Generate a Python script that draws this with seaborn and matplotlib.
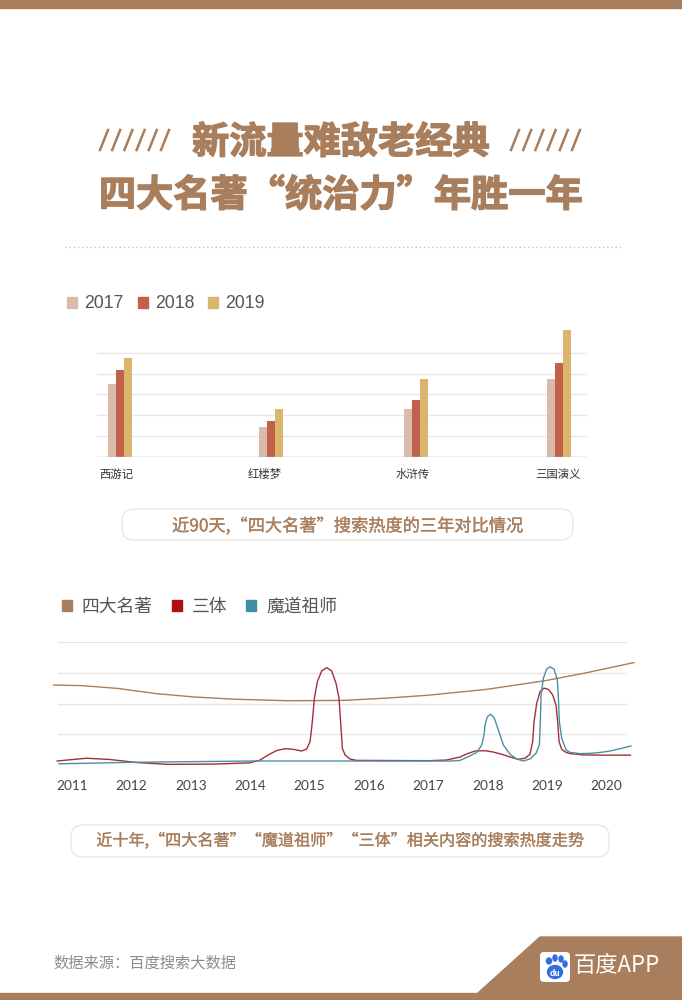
import pandas as pd
import matplotlib.pyplot as plt
import seaborn as sns
from matplotlib.patches import Patch, Polygon, Rectangle, FancyBboxPatch, Ellipse
from matplotlib.patheffects import withStroke

plt.rcParams["font.family"] = ["Noto Sans CJK SC", "DejaVu Sans"]

brown = "#A97E5C"

bars = {
    "名著": ["西游记", "红楼梦", "水浒传", "三国演义"],
    "位置": [120, 271, 416, 559],
    "2017": [3.5, 1.43, 2.3, 3.75],
    "2018": [4.18, 1.72, 2.73, 4.52],
    "2019": [4.76, 2.3, 3.75, 6.1],
}
df_bars = pd.DataFrame(bars).melt(id_vars=["名著", "位置"], var_name="年份", value_name="热度")

brown_line = [(2010.69, 2.60), (2011.18, 2.58), (2011.77, 2.49), (2012.42, 2.32), (2013.07, 2.21),
              (2013.73, 2.14), (2014.64, 2.09), (2015.56, 2.10), (2016.34, 2.18), (2017.0, 2.27),
              (2017.98, 2.46), (2018.96, 2.74), (2019.61, 2.98), (2020.46, 3.33)]
red_line = [(2010.75, .13), (2011.24, .22), (2011.63, .18), (2012.09, .08), (2012.62, .02), (2013.40, .03),
            (2013.99, .07), (2014.165, .16), (2014.305, .33), (2014.445, .47), (2014.586, .53), (2014.726, .51),
            (2014.866, .455), (2014.95, .52), (2015.007, .76), (2015.046, 1.41), (2015.08, 2.17), (2015.13, 2.71),
            (2015.203, 3.06), (2015.287, 3.165), (2015.371, 3.06), (2015.444, 2.66), (2015.495, 2.17),
            (2015.529, 1.19), (2015.551, .54), (2015.596, .33), (2015.68, .195), (2015.79, .15), (2017.0, .14),
            (2017.3, .16), (2017.532, .26), (2017.644, .36), (2017.785, .455), (2017.953, .465), (2018.093, .42),
            (2018.233, .35), (2018.374, .26), (2018.514, .185), (2018.626, .22), (2018.71, .35), (2018.755, .76),
            (2018.778, 1.41), (2018.823, 2.005), (2018.879, 2.385), (2018.946, 2.50), (2019.019, 2.46),
            (2019.092, 2.28), (2019.148, 1.95), (2019.176, 1.41), (2019.199, .76), (2019.244, .51), (2019.317, .41),
            (2019.384, .37), (2019.6, .33), (2019.94, .32), (2020.40, .32)]
teal_line = [(2010.78, .04), (2012.09, .09), (2014.05, .13), (2015.69, .13), (2017.2, .13), (2017.39, .13),
             (2017.532, .15), (2017.672, .27), (2017.813, .41), (2017.897, .65), (2017.936, .975), (2017.953, 1.30),
             (2017.992, 1.57), (2018.048, 1.65), (2018.11, 1.52), (2018.177, 1.14), (2018.262, .65), (2018.374, .35),
             (2018.486, .195), (2018.598, .13), (2018.71, .195), (2018.811, .38), (2018.868, .65), (2018.884, 1.41),
             (2018.896, 2.28), (2018.935, 2.82), (2018.991, 3.12), (2019.047, 3.19), (2019.115, 3.12), (2019.171, 2.76),
             (2019.188, 2.17), (2019.204, 1.41), (2019.244, .87), (2019.317, .49), (2019.384, .41), (2019.55, .37),
             (2019.74, .38), (2019.9, .41), (2020.07, .46), (2020.25, .54), (2020.41, .62)]

rows = []
for name, points in [("四大名著", brown_line), ("三体", red_line), ("魔道祖师", teal_line)]:
    for year, value in points:
        rows.append({"词": name, "年": year, "热度": value})
df_lines = pd.DataFrame(rows)

plt.figure(figsize=(6.82, 10))

# page decoration, in pixels of the picture
page = plt.axes([0, 0, 1, 1])
plt.xlim(0, 682)
plt.ylim(1000, 0)
plt.axis("off")
page.add_patch(Rectangle((0, 0), 682, 8, color=brown))
page.add_patch(Rectangle((0, 993), 682, 7, color=brown))
page.add_patch(Polygon([(478, 993), (540, 937), (682, 937), (682, 993)], color=brown))

for start in [100, 511]:
    for i in range(6):
        x = start + i * 12.2
        plt.plot([x, x + 8], [150, 130], color=brown, lw=1.8)
thick = [withStroke(linewidth=1, foreground=brown)]
plt.text(341, 143, "新流量难敌老经典", ha="center", va="center", fontsize=26.8, weight="bold", color=brown, path_effects=thick)
plt.text(341, 196, "四大名著“统治力”年胜一年", ha="center", va="center", fontsize=26.8, weight="bold", color=brown, path_effects=thick)
plt.plot([65, 623], [246.5, 246.5], color="#c4c4c4", lw=1, ls=(0, (1, 2)))

for x0, x1, y0, y1 in [(122, 573, 509, 540), (71, 609, 825, 857)]:
    page.add_patch(FancyBboxPatch((x0 + 12, y0 + 12), x1 - x0 - 24, y1 - y0 - 24, boxstyle="round,pad=12",
                                  fc="white", ec="#ebe6e0", lw=1))
medium = [withStroke(linewidth=0.2, foreground=brown)]
plt.text(348, 526, "近90天,“四大名著”搜索热度的三年对比情况", ha="center", va="center", fontsize=12.4, color=brown, path_effects=medium)
plt.text(340, 841, "近十年,“四大名著”“魔道祖师”“三体”相关内容的搜索热度走势", ha="center", va="center", fontsize=11.6, color=brown, path_effects=medium)
plt.text(53, 963, "数据来源：百度搜索大数据", ha="left", va="center", fontsize=11, color="#8c8c8c")

# logo
page.add_patch(FancyBboxPatch((544, 956), 22, 22, boxstyle="round,pad=4", fc="white", ec="none"))
for x, y, w, h in [(549, 961, 5, 6), (555, 958, 4, 6), (561, 959, 4, 6), (565, 964, 4, 6), (555, 972, 15, 13)]:
    page.add_patch(Ellipse((x, y), w, h, color="#2F6FDE"))
plt.text(555, 973, "du", ha="center", va="center", fontsize=6, color="white", weight="bold")
plt.text(574, 966, "百度APP", ha="left", va="center", fontsize=16, color="white")

# bars
plt.axes([97 / 682, 1 - 456.5 / 1000, 490 / 682, 134.55 / 1000])
sns.barplot(data=df_bars, x="位置", y="热度", hue="年份", native_scale=True, width=0.168, gap=0, saturation=1,
            palette=["#D8BBAA", "#C2604A", "#D9B56E"], legend=False, zorder=3)
plt.xlim(97, 587)
plt.ylim(0, 6.5)
plt.yticks(range(6), [""] * 6)
plt.xticks([116, 265, 413, 558], bars["名著"], fontsize=8.2, color="#333333")
plt.tick_params(length=0, pad=9)
plt.grid(axis="y", color="#e6e6e6", lw=1)
plt.xlabel("")
plt.ylabel("")
plt.box(False)
plt.axhline(0, color="#bdbdbd", lw=1, zorder=4)
plt.legend(handles=[Patch(color="#D8BBAA", label="2017"), Patch(color="#C2604A", label="2018"),
                    Patch(color="#D9B56E", label="2019")],
           ncol=3, loc="center left", bbox_to_anchor=(67 / 682, 1 - 304 / 1000),
           bbox_transform=plt.gcf().transFigure, frameon=False, labelcolor="#555555",
           prop={"family": "Liberation Sans", "size": 12.7},
           handlelength=0.57, handleheight=0.57, handletextpad=0.4, columnspacing=0.8,
           borderpad=0, borderaxespad=0)

# lines
plt.axes([58 / 682, 1 - 765 / 1000, 569 / 682, 123 / 1000])
sns.lineplot(data=df_lines, x="年", y="热度", hue="词", palette=[brown, "#A0303A", "#4A90A4"],
             lw=1, legend=False, estimator=None, sort=False, clip_on=False, zorder=3)
plt.xlim(2010.764, 2020.343)
plt.ylim(0, 4)
plt.yticks(range(5), [""] * 5)
plt.xticks(range(2011, 2021), fontsize=9.8, color="#444444", family="Lato")
plt.tick_params(length=0, pad=11)
plt.grid(axis="y", color="#e6e6e6", lw=1)
plt.xlabel("")
plt.ylabel("")
plt.box(False)
plt.legend(handles=[Patch(color=brown, label="四大名著"), Patch(color="#AE1010", label="三体"),
                    Patch(color="#3F8FA6", label="魔道祖师")],
           ncol=3, loc="center left", bbox_to_anchor=(62 / 682, 1 - 607 / 1000),
           bbox_transform=plt.gcf().transFigure, frameon=False, fontsize=12.8, labelcolor="#555555",
           handlelength=0.56, handleheight=0.56, handletextpad=0.56, columnspacing=1.07,
           borderpad=0, borderaxespad=0)

plt.savefig("out.png", dpi=100)
